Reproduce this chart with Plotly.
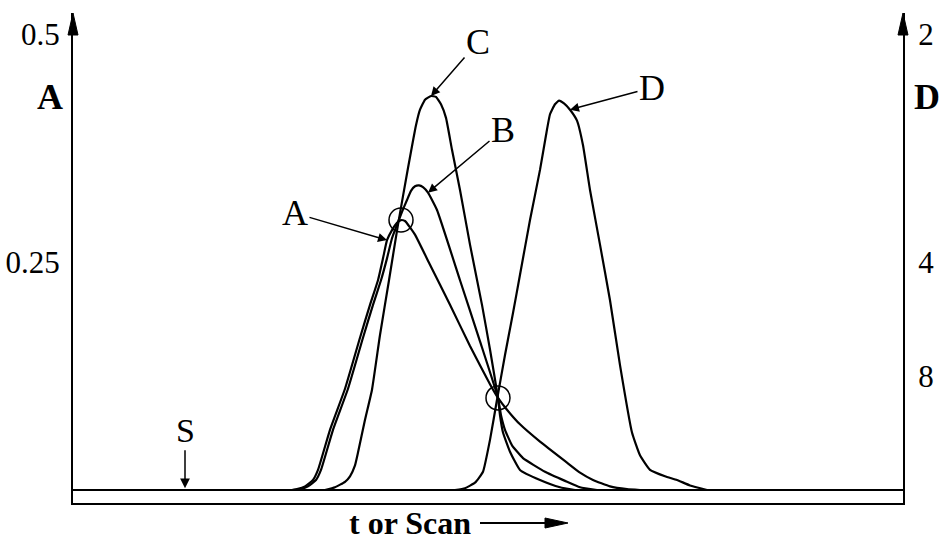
import plotly.graph_objects as go

# ---------------- data (scan units, absorbance) ----------------
SCAN_A = [219, 224, 232, 240, 245, 257, 272, 287, 297, 305, 310, 314, 319, 324, 328, 332,
          337, 342, 357, 377, 397, 417, 425, 434, 447, 467, 494, 507, 520, 537, 554, 567]
ABS_A = [0, 0.001, 0.004, 0.011, 0.022, 0.066, 0.111, 0.167, 0.203, 0.230, 0.254, 0.274,
         0.285, 0.293, 0.296, 0.295, 0.288, 0.280, 0.247, 0.203, 0.158, 0.116, 0.101, 0.088,
         0.072, 0.053, 0.030, 0.019, 0.011, 0.004, 0.001, 0]

SCAN_B = [223, 228, 235, 243, 248, 260, 275, 290, 300, 308, 314, 319, 324, 329, 334, 338,
          342, 346, 350, 355, 364, 387, 407, 425, 428, 432, 439, 450, 472, 492, 507, 524]
ABS_B = [0, 0.001, 0.004, 0.011, 0.022, 0.066, 0.111, 0.167, 0.203, 0.230, 0.254, 0.276,
         0.291, 0.305, 0.318, 0.328, 0.333, 0.334, 0.332, 0.326, 0.307, 0.230, 0.163, 0.101,
         0.082, 0.066, 0.049, 0.035, 0.020, 0.010, 0.003, 0]

SCAN_C = [252, 262, 272, 277, 282, 285, 292, 299, 307, 316, 325, 335, 343, 347, 352, 358,
          363, 368, 373, 379, 387, 397, 409, 417, 425, 427, 430, 437, 447, 467, 487, 502]
ABS_C = [0, 0.003, 0.009, 0.015, 0.027, 0.041, 0.077, 0.110, 0.170, 0.230, 0.291, 0.353,
         0.400, 0.417, 0.428, 0.432, 0.431, 0.423, 0.408, 0.373, 0.329, 0.269, 0.203, 0.154,
         0.101, 0.082, 0.063, 0.042, 0.022, 0.011, 0.003, 0]

SCAN_D = [382, 392, 402, 410, 417, 424, 432, 440, 447, 457, 467, 473, 477, 482, 486, 491,
          497, 504, 510, 517, 527, 537, 547, 559, 567, 577, 592, 604, 617, 634]
ABS_D = [0, 0.002, 0.008, 0.020, 0.055, 0.099, 0.148, 0.194, 0.236, 0.296, 0.351, 0.389,
         0.412, 0.423, 0.427, 0.424, 0.417, 0.405, 0.378, 0.329, 0.269, 0.208, 0.137, 0.063,
         0.038, 0.022, 0.015, 0.011, 0.005, 0]

LEFT_TICKS = [0.25, 0.5]
LEFT_TICK_TEXT = ["0.25", "0.5"]
RIGHT_TICKS = [2, 4, 8]          # D values, placed at 1/D on the absorbance scale
S_SCAN = 112                      # start marker
MARKED_IDX_A = [14, 22]           # points circled on curve A

# ---------------- geometry ----------------
W, H = 943, 540
PL, PR, PT, PB = 73, 903, 13, 503
BASE_PX = 490
PX_PER_ABS = 912.0
X_RANGE = [0, PR - PL]
Y_RANGE = [-(PB - BASE_PX) / PX_PER_ABS, (BASE_PX - PT) / PX_PER_ABS]


def px_paper(px, py):
    return (px - PL) / (PR - PL), (PB - py) / (PB - PT)


FONT = "Liberation Serif"
fig = go.Figure()
line = dict(color="black", width=2.2, shape="spline", smoothing=0.4)
for xs, ys, ax in [(SCAN_A, ABS_A, "y"), (SCAN_B, ABS_B, "y"), (SCAN_C, ABS_C, "y"),
                   (SCAN_D, ABS_D, "y2")]:
    fig.add_trace(go.Scatter(x=xs, y=ys, mode="lines", line=line, yaxis=ax,
                             showlegend=False, hoverinfo="skip"))

shapes = []
# circles around marked points
r = 12
for i in MARKED_IDX_A:
    cx, cy = SCAN_A[i], ABS_A[i]
    shapes.append(dict(type="circle", xref="x", yref="y", x0=cx - r, x1=cx + r,
                       y0=cy - r / PX_PER_ABS, y1=cy + r / PX_PER_ABS,
                       line=dict(color="black", width=1.5)))

# axis arrowheads
for axpx in (PL, PR):
    bx0, by = px_paper(axpx - 5, PT + 22)
    bx1, _ = px_paper(axpx + 5, PT + 22)
    tx, ty = px_paper(axpx, PT)
    shapes.append(dict(type="path", xref="paper", yref="paper",
                       path=f"M {bx0} {by} L {tx} {ty} L {bx1} {by} Z",
                       fillcolor="black", line=dict(color="black", width=1)))

# "t or Scan" arrow
ax0, ay0 = px_paper(480, 523)
ax1, _ = px_paper(548, 523)
shapes.append(dict(type="line", xref="paper", yref="paper", x0=ax0, x1=ax1, y0=ay0, y1=ay0,
                   line=dict(color="black", width=2)))
hx0, hy0 = px_paper(545, 518)
_, hy1 = px_paper(545, 528)
htx, hty = px_paper(568, 523)
shapes.append(dict(type="path", xref="paper", yref="paper",
                   path=f"M {hx0} {hy0} L {htx} {hty} L {hx0} {hy1} Z",
                   fillcolor="black", line=dict(color="black", width=1)))

annotations = []
lab_font = dict(family=FONT, size=36, color="black")
for text, xs, ys, idx, axo, ayo in [("C", SCAN_C, ABS_C, 15, 47, -54),
                                     ("B", SCAN_B, ABS_B, 19, 75, -63),
                                     ("A", SCAN_A, ABS_A, 11, -92, -27),
                                     ("D", SCAN_D, ABS_D, 16, 82, -22)]:
    annotations.append(dict(x=xs[idx], y=ys[idx], xref="x", yref="y", text=text,
                            showarrow=True, arrowhead=2, arrowsize=1.2, arrowwidth=1.5,
                            arrowcolor="black", ax=axo, ay=ayo, font=lab_font))
annotations.append(dict(x=S_SCAN, y=0.002, xref="x", yref="y", text="S", showarrow=True,
                        arrowhead=2, arrowsize=1.3, arrowwidth=1.5, arrowcolor="black",
                        ax=0, ay=-58, font=dict(family=FONT, size=34, color="black")))

for text, px, py in [("<b>A</b>", 50, 97), ("<b>D</b>", 927, 97)]:
    x, y = px_paper(px, py)
    annotations.append(dict(x=x, y=y, xref="paper", yref="paper", text=text, showarrow=False,
                            xanchor="center", yanchor="middle",
                            font=dict(family=FONT, size=36, color="black")))
x, y = px_paper(410, 523)
annotations.append(dict(x=x, y=y, xref="paper", yref="paper", text="<b>t or Scan</b>",
                        showarrow=False, xanchor="center", yanchor="middle",
                        font=dict(family=FONT, size=32, color="black")))

tick_font = dict(family=FONT, size=31, color="black")
fig.update_layout(
    width=W, height=H,
    margin=dict(l=PL, r=W - PR, t=PT, b=H - PB, pad=0, autoexpand=False),
    paper_bgcolor="white", plot_bgcolor="white",
    xaxis=dict(range=X_RANGE, showline=True, linecolor="black", linewidth=2,
               showticklabels=False, ticks="", showgrid=False, zeroline=False,
               automargin=False),
    yaxis=dict(range=Y_RANGE, showline=True, linecolor="black", linewidth=2,
               tickvals=LEFT_TICKS, ticktext=LEFT_TICK_TEXT, ticks="", tickfont=tick_font,
               ticklabelstandoff=5, showgrid=False, zeroline=True, zerolinecolor="black",
               zerolinewidth=2, automargin=False),
    yaxis2=dict(range=Y_RANGE, overlaying="y", side="right", showline=True,
                linecolor="black", linewidth=2,
                tickvals=[1 / d for d in RIGHT_TICKS], ticktext=[str(d) for d in RIGHT_TICKS],
                ticks="", tickfont=tick_font, ticklabelstandoff=7, showgrid=False,
                zeroline=False, automargin=False),
    shapes=shapes, annotations=annotations, showlegend=False,
)
fig.write_html("out.html", config={"displayModeBar": False},
               post_script="document.body.style.margin='0';document.body.style.overflow='hidden';")
